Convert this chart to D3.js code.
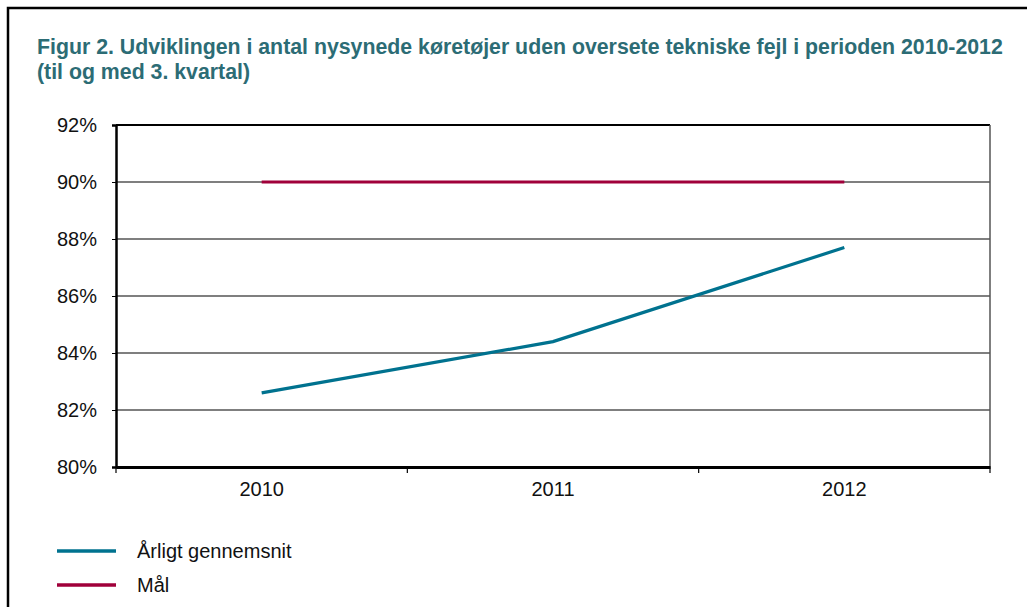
<!DOCTYPE html>
<html lang="da">
  <head>
    <meta charset="UTF-8" />
    <title>Figur 2</title>
    <script src="https://d3js.org/d3.v7.min.js"></script>
    <style>
      body {
        margin: 0;
        background: #fff;
        font-family: "Liberation Sans", Arial, sans-serif;
      }
    </style>
  </head>
  <body>
    <svg id="chart" width="1027" height="607"></svg>
    <script>
      const years = ["2010", "2011", "2012"];
      const annualAvg = [82.6, 84.4, 87.7];
      const target = [90, 90, 90];
      const yTicks = [80, 82, 84, 86, 88, 90, 92];
      const seriesNames = ["Årligt gennemsnit", "Mål"];
      const colors = ["#00728f", "#a0003a"];

      const svg = d3.select("#chart");
      const plot = { left: 116, right: 990, top: 125, bottom: 467 };

      // outer frame
      svg
        .append("rect")
        .attr("x", 8)
        .attr("y", 8)
        .attr("width", 1040)
        .attr("height", 620)
        .attr("fill", "none")
        .attr("stroke", "#000")
        .attr("stroke-width", 2.5);

      const title = svg
        .append("text")
        .attr("font-size", 21.3)
        .attr("font-weight", "bold")
        .attr("fill", "#2c6c75");
      title.append("tspan").attr("x", 37).attr("y", 54)
        .text("Figur 2. Udviklingen i antal nysynede køretøjer uden oversete tekniske fejl i perioden 2010-2012");
      title.append("tspan").attr("x", 37).attr("y", 79)
        .text("(til og med 3. kvartal)");

      const x = d3
        .scaleBand()
        .domain(years)
        .range([plot.left, plot.right]);

      const y = d3
        .scaleLinear()
        .domain([80, 92])
        .range([plot.bottom, plot.top]);

      // gridlines
      svg
        .append("g")
        .selectAll("line")
        .data(yTicks.slice(1, -1))
        .enter()
        .append("line")
        .attr("x1", plot.left)
        .attr("x2", plot.right)
        .attr("y1", (d) => y(d))
        .attr("y2", (d) => y(d))
        .attr("stroke", "#555")
        .attr("stroke-width", 1.3);

      // plot frame: top black, right grey
      svg.append("line")
        .attr("x1", plot.left).attr("x2", plot.right)
        .attr("y1", plot.top).attr("y2", plot.top)
        .attr("stroke", "#000").attr("stroke-width", 2);
      svg.append("line")
        .attr("x1", plot.right).attr("x2", plot.right)
        .attr("y1", plot.top).attr("y2", plot.bottom)
        .attr("stroke", "#555").attr("stroke-width", 1.5);

      const yAxis = svg
        .append("g")
        .attr("transform", `translate(${plot.left},0)`)
        .call(
          d3.axisLeft(y)
            .tickValues(yTicks)
            .tickSize(4)
            .tickPadding(15)
            .tickFormat((d) => d + "%")
        );
      yAxis.select(".domain").attr("stroke-width", 2.5);
      yAxis.selectAll("text")
        .attr("font-size", 20)
        .attr("font-family", "Liberation Sans, Arial, sans-serif")
        .attr("fill", "#111");

      const xAxis = svg
        .append("g")
        .attr("transform", `translate(0,${plot.bottom})`)
        .call(d3.axisBottom(x).tickSize(0).tickPadding(15));
      xAxis.select(".domain").attr("stroke-width", 3);
      xAxis.selectAll("text")
        .attr("font-size", 20)
        .attr("font-family", "Liberation Sans, Arial, sans-serif")
        .attr("fill", "#111");
      // category boundary ticks
      xAxis
        .selectAll(".bound")
        .data(years.concat(["end"]))
        .enter()
        .append("line")
        .attr("x1", (d, i) => plot.left + i * x.step())
        .attr("x2", (d, i) => plot.left + i * x.step())
        .attr("y1", 0)
        .attr("y2", 6)
        .attr("stroke", "#000")
        .attr("stroke-width", 1.2);

      const line = d3
        .line()
        .x((d, i) => x(years[i]) + x.bandwidth() / 2)
        .y((d) => y(d));

      [annualAvg, target].forEach((series, i) => {
        svg
          .append("path")
          .datum(series)
          .attr("d", line)
          .attr("fill", "none")
          .attr("stroke", colors[i])
          .attr("stroke-width", 3.2);
      });

      // legend
      const legend = svg
        .append("g")
        .selectAll("g")
        .data(seriesNames)
        .enter()
        .append("g")
        .attr("transform", (d, i) => `translate(0,${551 + i * 34})`);
      legend
        .append("line")
        .attr("x1", 57)
        .attr("x2", 116)
        .attr("stroke", (d, i) => colors[i])
        .attr("stroke-width", 3.5);
      legend
        .append("text")
        .attr("x", 137)
        .attr("y", 7)
        .attr("font-size", 20)
        .attr("fill", "#111")
        .text((d) => d);
    </script>
  </body>
</html>
